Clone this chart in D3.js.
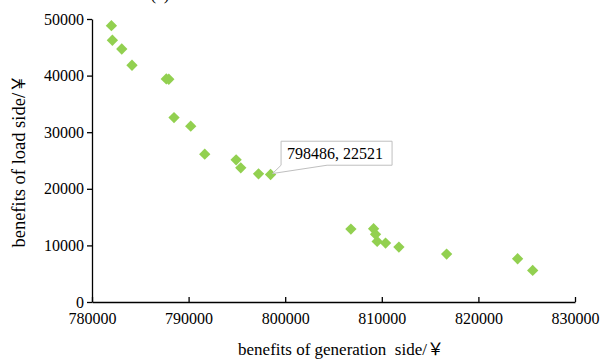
<!DOCTYPE html>
<html>
<head>
<meta charset="utf-8">
<script src="https://cdn.jsdelivr.net/npm/d3@7"></script>
<style>
  body { margin: 0; background: #fff; }
  svg { display: block; font-family: "Liberation Serif", "Times New Roman", serif; }
</style>
</head>
<body>
<div id="chart"></div>
<script>
// benefits of generation side (x) and load side (y)
const genBenefit = [782010, 782110, 783080, 784140, 787690, 787950, 788490, 790220, 791670, 794920, 795400,
    797240, 798486, 806800, 809150, 809350, 809520, 810390, 811770, 816710, 824060, 825620];
const loadBenefit = [48820, 46240, 44700, 41830, 39420, 39350, 32580, 31060, 26120, 25120, 23700,
    22650, 22521, 12890, 12940, 11950, 10700, 10410, 9710, 8470, 7640, 5580];
const xTicks = [780000, 790000, 800000, 810000, 820000, 830000];
const yTicks = [0, 10000, 20000, 30000, 40000, 50000];
const labelIndex = 12;

const W = 602, H = 360;
const margin = { top: 19, right: 27, bottom: 58, left: 92 };
const w = W - margin.left - margin.right;
const h = H - margin.top - margin.bottom;

const svg = d3.select("#chart").append("svg")
    .attr("width", W)
    .attr("height", H);

// panel title, mostly cut off at the top edge (as in the reference)
svg.append("text")
    .attr("x", 160).attr("y", 0)
    .attr("text-anchor", "middle")
    .attr("font-size", 17)
    .text("(a)");

const g = svg.append("g")
    .attr("transform", `translate(${margin.left}, ${margin.top})`);

const x = d3.scaleLinear().domain([780000, 830000]).range([0, w]);
const y = d3.scaleLinear().domain([0, 50000]).range([h, 0]);

// y axis
const yAxis = g.append("g")
    .call(d3.axisLeft(y).tickValues(yTicks).tickSizeInner(5).tickSizeOuter(0).tickPadding(3).tickFormat(d3.format("d")));
yAxis.select(".domain").attr("stroke", "#000").attr("stroke-width", 1.3);
yAxis.selectAll(".tick line").attr("stroke", "#000").attr("stroke-width", 1.3);
yAxis.selectAll("text").attr("font-size", 16).attr("fill", "#000").attr("font-family", "Liberation Serif");

// x axis, ticks pointing inward
const xAxis = g.append("g")
    .attr("transform", `translate(0, ${h})`)
    .call(d3.axisBottom(x).tickValues(xTicks).tickSizeInner(-5).tickSizeOuter(0).tickPadding(11).tickFormat(d3.format("d")));
xAxis.select(".domain").attr("stroke", "#000").attr("stroke-width", 1.3);
xAxis.selectAll(".tick line").attr("stroke", "#000").attr("stroke-width", 1.3);
xAxis.selectAll("text").attr("font-size", 16).attr("fill", "#000").attr("font-family", "Liberation Serif");

// axis titles
const xTitle = svg.append("text")
    .attr("x", 341).attr("y", 355)
    .attr("text-anchor", "middle")
    .attr("font-size", 17)
    .style("white-space", "pre");
xTitle.append("tspan").text("benefits of generation  side/");
xTitle.append("tspan").attr("font-family", "Noto Sans CJK SC").text("￥");

const yTitle = svg.append("text")
    .attr("transform", "translate(25, 161) rotate(-90)")
    .attr("text-anchor", "middle")
    .attr("font-size", 18.5);
yTitle.append("tspan").text("benefits of load side/");
yTitle.append("tspan").attr("font-family", "Noto Sans CJK SC").text("￥");

// points
const pts = genBenefit.map((v, i) => [v, loadBenefit[i]]);
const diamond = d3.symbol(d3.symbolSquare, 64);
g.selectAll("path.pt")
    .data(pts)
    .enter()
    .append("path")
    .attr("class", "pt")
    .attr("d", diamond)
    .attr("transform", d => `translate(${x(d[0])}, ${y(d[1])}) rotate(45)`)
    .attr("fill", "#92D050");

// callout for the marked point
const px = x(genBenefit[labelIndex]), py = y(loadBenefit[labelIndex]);
const bx = px + 10.5, by = py - 33.3, bw = 111, bh = 24;
g.append("path")
    .attr("d", `M${bx},${by} L${bx + bw},${by} L${bx + bw},${by + bh} L${bx + 46},${by + bh} L${px + 2},${py - 1} L${bx},${by + bh} Z`)
    .attr("fill", "#fff")
    .attr("stroke", "#bfbfbf")
    .attr("stroke-width", 1);
g.append("text")
    .attr("x", bx + 6).attr("y", by + 18)
    .attr("font-size", 16)
    .text(`${genBenefit[labelIndex]}, ${loadBenefit[labelIndex]}`);
</script>
</body>
</html>
